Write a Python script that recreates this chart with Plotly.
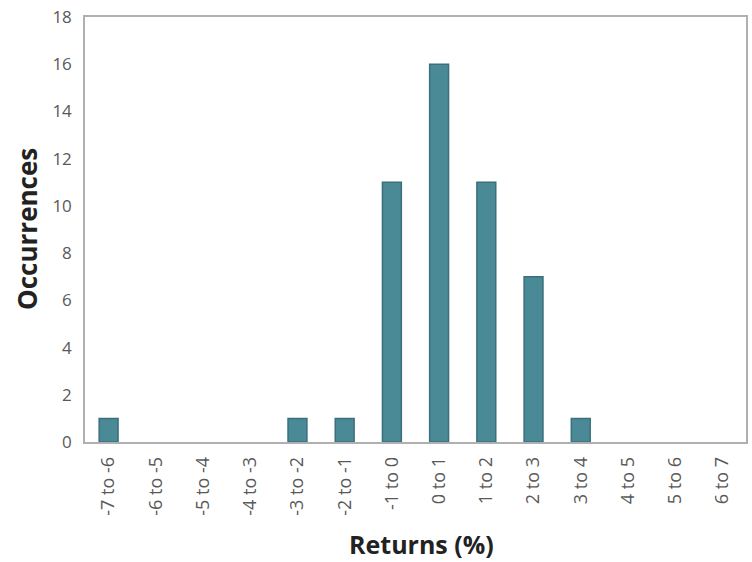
import plotly.graph_objects as go

categories = ["-7 to -6", "-6 to -5", "-5 to -4", "-4 to -3", "-3 to -2", "-2 to -1",
              "-1 to 0", "0 to 1", "1 to 2", "2 to 3", "3 to 4", "4 to 5", "5 to 6", "6 to 7"]
occurrences = [1, 0, 0, 0, 1, 1, 11, 16, 11, 7, 1, 0, 0, 0]
y_ticks = [0, 2, 4, 6, 8, 10, 12, 14, 16, 18]

line_widths = [1.5 if v > 0 else 0 for v in occurrences]

fig = go.Figure(go.Bar(
    x=categories, y=occurrences,
    marker=dict(color="#4a8996", line=dict(color="#3b707b", width=line_widths)),
))

W, H = 752, 562
l, r, t, b = 85, 6, 17, 120
pw, ph = W - l - r, H - t - b

def px_x(x):
    return (x - l) / pw

def px_y(y):
    return 1 - (y - t) / ph

font_family = "Open Sans, Noto Sans, sans-serif"
fig.update_layout(
    width=W, height=H,
    margin=dict(l=l, r=r, t=t, b=b),
    paper_bgcolor="white", plot_bgcolor="white",
    bargap=0.6,
    showlegend=False,
    font=dict(family=font_family, color="#595959"),
    xaxis=dict(
        tickangle=-90, tickfont=dict(size=18, color="#595959"),
        showline=True, linecolor="#b0b0b0", linewidth=1.5, mirror=True,
        ticks="outside", ticklen=6, tickcolor="rgba(0,0,0,0)", showgrid=False,
        automargin=False,
    ),
    yaxis=dict(
        range=[0, 18], tickvals=y_ticks, tickfont=dict(size=17, color="#595959"),
        showline=True, linecolor="#b0b0b0", linewidth=1.5, mirror=True,
        ticks="outside", ticklen=8, tickcolor="rgba(0,0,0,0)", showgrid=False, zeroline=False,
        automargin=False,
    ),
    annotations=[
        dict(text="<b>Occurrences</b>", x=px_x(27), y=px_y(229), xref="paper", yref="paper",
             xanchor="center", yanchor="middle",
             showarrow=False, textangle=-90,
             font=dict(size=26, color="#222222")),
        dict(text="<b>Returns (%)</b>", x=px_x(421), y=px_y(544), xref="paper", yref="paper",
             xanchor="center", yanchor="middle",
             showarrow=False, font=dict(size=25, color="#222222")),
    ],
)

fig.write_html("out.html", config={"displayModeBar": False},
               post_script="document.body.style.margin='0';")
